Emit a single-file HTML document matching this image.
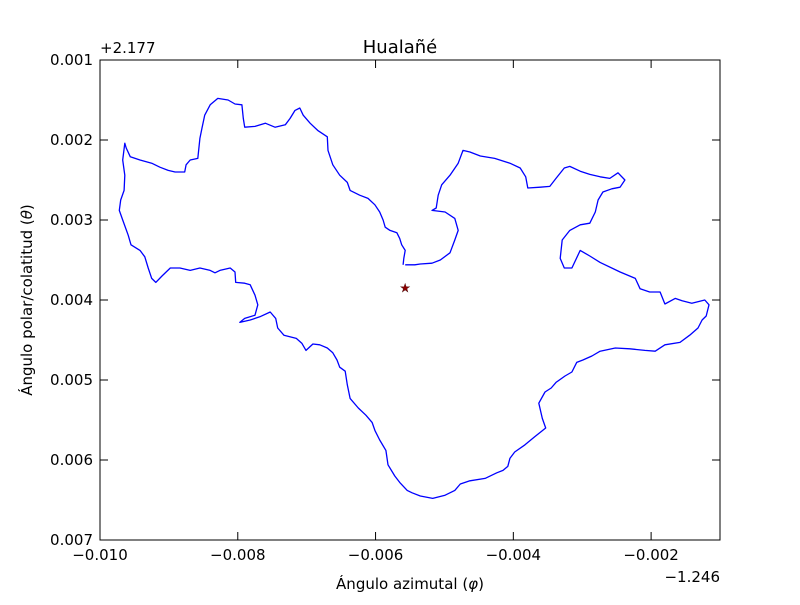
<!DOCTYPE html>
<html><head><meta charset="utf-8"><style>
body{margin:0;background:#fff}
svg text{font-family:"DejaVu Sans","Liberation Sans",sans-serif;fill:#000}
</style></head><body>
<svg id="chart" width="800" height="600" xmlns="http://www.w3.org/2000/svg">
<rect width="800" height="600" fill="#fff"/>
<text x="400" y="53" font-size="18" text-anchor="middle">Hualañé</text>
<text x="100" y="53" font-size="15">+2.177</text>
<text x="720" y="582" font-size="15" text-anchor="end">−1.246</text>
<text x="410" y="589" font-size="15" text-anchor="middle">Ángulo azimutal (<tspan font-style="italic">φ</tspan>)</text>
<text transform="translate(32,300) rotate(-90)" font-size="15" text-anchor="middle">Ángulo polar/colatitud (<tspan font-style="italic">θ</tspan>)</text>
<g id="ticks"></g>
<g id="plot"></g>
<rect x="100" y="60" width="620" height="480" fill="none" stroke="#000" stroke-width="1"/>
</svg>
<script>
// values in units of 1e-3, relative to offsets (x: -1.246, y: +2.177)
const xs=[-5.60,-5.59,-5.57,-5.62,-5.65,-5.69,-5.79,-5.86,-5.89,-5.94,-6.01,-6.11,-6.23,-6.37,-6.41,-6.52,-6.62,-6.69,-6.70,-6.84,-6.95,-7.05,-7.10,-7.17,-7.24,-7.31,-7.46,-7.60,-7.75,-7.90,-7.92,-7.94,-8.04,-8.14,-8.29,-8.40,-8.48,-8.52,-8.55,-8.58,-8.69,-8.75,-8.77,-8.91,-9.01,-9.13,-9.25,-9.42,-9.56,-9.62,-9.64,-9.67,-9.64,-9.65,-9.70,-9.72,-9.67,-9.59,-9.55,-9.42,-9.35,-9.30,-9.25,-9.19,-9.10,-8.98,-8.84,-8.69,-8.55,-8.40,-8.33,-8.26,-8.11,-8.04,-8.03,-7.90,-7.82,-7.75,-7.71,-7.75,-7.90,-7.97,-7.82,-7.68,-7.53,-7.45,-7.42,-7.33,-7.15,-7.07,-7.01,-6.91,-6.81,-6.70,-6.62,-6.56,-6.52,-6.44,-6.41,-6.37,-6.25,-6.14,-6.05,-6.01,-5.94,-5.85,-5.82,-5.72,-5.65,-5.54,-5.47,-5.35,-5.17,-4.99,-4.85,-4.77,-4.63,-4.41,-4.24,-4.15,-4.08,-4.05,-3.98,-3.83,-3.69,-3.53,-3.58,-3.63,-3.54,-3.45,-3.38,-3.25,-3.15,-3.08,-2.99,-2.86,-2.74,-2.52,-2.31,-2.09,-1.94,-1.80,-1.58,-1.44,-1.32,-1.26,-1.20,-1.16,-1.22,-1.41,-1.55,-1.65,-1.80,-1.87,-2.02,-2.16,-2.23,-2.45,-2.74,-2.89,-3.03,-3.15,-3.26,-3.32,-3.29,-3.18,-3.03,-2.89,-2.81,-2.77,-2.70,-2.57,-2.45,-2.38,-2.48,-2.60,-2.74,-2.89,-3.03,-3.18,-3.26,-3.38,-3.47,-3.61,-3.79,-3.82,-3.90,-4.05,-4.27,-4.48,-4.63,-4.73,-4.80,-4.92,-5.04,-5.09,-5.12,-5.18,-4.99,-4.85,-4.80,-4.85,-4.92,-5.06,-5.18,-5.35,-5.43,-5.57];
const ys=[3.56,3.48,3.38,3.31,3.23,3.16,3.13,3.09,3.00,2.90,2.81,2.73,2.69,2.63,2.53,2.44,2.31,2.13,1.96,1.88,1.79,1.69,1.60,1.63,1.73,1.81,1.84,1.79,1.83,1.84,1.73,1.56,1.55,1.50,1.48,1.56,1.69,1.85,1.98,2.23,2.25,2.31,2.40,2.40,2.38,2.34,2.29,2.25,2.21,2.10,2.04,2.25,2.44,2.63,2.75,2.88,3.00,3.19,3.31,3.38,3.46,3.60,3.73,3.78,3.70,3.60,3.60,3.63,3.60,3.63,3.66,3.63,3.60,3.65,3.78,3.79,3.81,3.94,4.06,4.19,4.23,4.28,4.25,4.21,4.15,4.23,4.35,4.44,4.48,4.54,4.63,4.55,4.56,4.60,4.66,4.75,4.84,4.89,5.06,5.23,5.35,5.44,5.53,5.63,5.75,5.88,6.06,6.20,6.28,6.38,6.41,6.45,6.48,6.44,6.38,6.30,6.26,6.23,6.16,6.13,6.08,5.98,5.90,5.81,5.71,5.60,5.48,5.29,5.15,5.10,5.03,4.95,4.90,4.78,4.75,4.70,4.64,4.60,4.61,4.63,4.64,4.56,4.53,4.44,4.35,4.25,4.20,4.06,4.00,4.04,4.01,3.98,4.05,3.90,3.90,3.86,3.73,3.65,3.53,3.45,3.38,3.60,3.60,3.48,3.25,3.13,3.06,3.04,2.90,2.75,2.65,2.61,2.59,2.50,2.41,2.48,2.46,2.43,2.39,2.33,2.35,2.48,2.58,2.59,2.60,2.46,2.35,2.29,2.23,2.20,2.15,2.13,2.29,2.44,2.56,2.69,2.85,2.88,2.90,2.98,3.13,3.25,3.41,3.50,3.54,3.55,3.56,3.56];
const centerX=[-5.57];
const centerY=[3.85];
const xTicks=[-10,-8,-6,-4,-2];
const xTickLabels=["−0.010","−0.008","−0.006","−0.004","−0.002"];
const yTicks=[1,2,3,4,5,6,7];
const yTickLabels=["0.001","0.002","0.003","0.004","0.005","0.006","0.007"];

const NS="http://www.w3.org/2000/svg";
const X=v=>100+(v+10)*620/9;
const Y=v=>60+(v-1)*80;
function mk(tag,attrs,parent){const e=document.createElementNS(NS,tag);for(const k in attrs)e.setAttribute(k,attrs[k]);parent.appendChild(e);return e;}
const plot=document.getElementById('plot');
const ticks=document.getElementById('ticks');

const d=xs.map((x,i)=>(i?'L':'M')+X(x).toFixed(1)+','+Y(ys[i]).toFixed(1)).join('');
const path=mk('path',{d:d,fill:'none',stroke:'#0000ff','stroke-width':1.3,'stroke-linejoin':'round'},plot);



centerX.forEach((cx,i)=>{
  const t=mk('text',{x:X(cx),y:Y(centerY[i])+4,'font-size':12,'text-anchor':'middle',style:'fill:#8b0000',stroke:'#300','stroke-width':0.3},plot);
  t.textContent='★';
  
  
});

xTicks.forEach((v,i)=>{
  const x=X(v);
  const g=mk('g',{},ticks);
  
  
  mk('line',{x1:x,x2:x,y1:540,y2:532,stroke:'#000'},g);
  mk('line',{x1:x,x2:x,y1:60,y2:68,stroke:'#000'},g);
  const t=mk('text',{x:x,y:560,'font-size':15,'text-anchor':'middle'},g);
  t.textContent=xTickLabels[i];
});
yTicks.forEach((v,i)=>{
  const y=Y(v);
  const g=mk('g',{},ticks);
  
  
  mk('line',{x1:100,x2:108,y1:y,y2:y,stroke:'#000'},g);
  mk('line',{x1:720,x2:712,y1:y,y2:y,stroke:'#000'},g);
  const t=mk('text',{x:93,y:y+5,'font-size':15,'text-anchor':'end'},g);
  t.textContent=yTickLabels[i];
});
</script>
</body></html>
